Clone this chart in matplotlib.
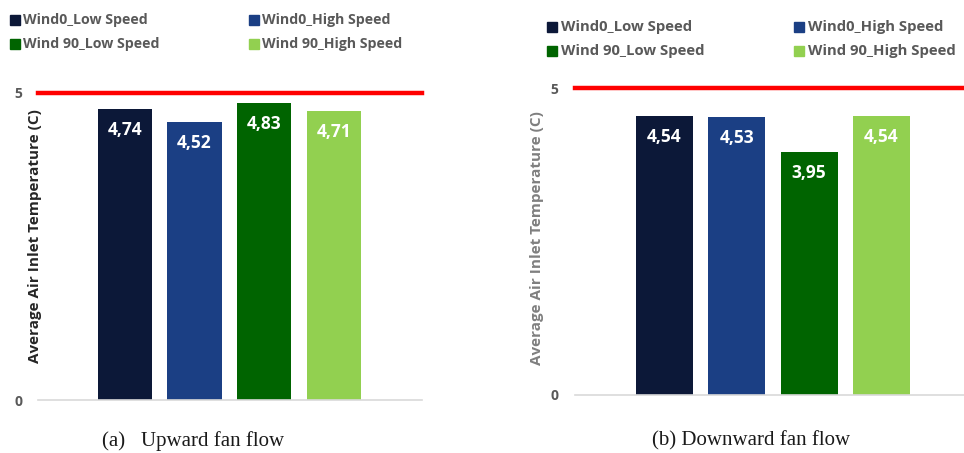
import matplotlib
matplotlib.use("Agg")
import matplotlib.pyplot as plt
from matplotlib.patches import Rectangle

series = ["Wind0_Low Speed", "Wind0_High Speed", "Wind 90_Low Speed", "Wind 90_High Speed"]
colors = ["#0c1838", "#1b3f84", "#006400", "#92d050"]
upward = [4.74, 4.52, 4.83, 4.71]
downward = [4.54, 4.53, 3.95, 4.54]
limit = 5
yticks = [0, 5]
captions = ["(a)   Upward fan flow", "(b) Downward fan flow"]
ylabel = "Average Air Inlet Temperature (C)"

W, H = 964, 453
fig = plt.figure(figsize=(W / 100, H / 100), dpi=100)

def px_axes(x0, y_top, x1, y_bot):
    return fig.add_axes([x0 / W, 1 - y_bot / H, (x1 - x0) / W, (y_bot - y_top) / H])

font = "Open Sans"
grey = "#595959"

def panel(ax, vals, xlim, width, tick_pad):
    xs = range(len(vals))
    ax.bar(xs, vals, width=width, color=colors)
    ax.set_xlim(*xlim)
    ax.set_ylim(0, limit)
    ax.axhline(limit, color="#ff0000", lw=3.2, clip_on=False, zorder=5)
    for x, v in zip(xs, vals):
        ax.text(x, v - 0.34, f"{v:.2f}".replace(".", ","), ha="center", va="center",
                color="white", fontsize=12.5, fontweight="bold", family=font)
    for s in ["top", "right", "left"]:
        ax.spines[s].set_visible(False)
    ax.spines["bottom"].set_color("#d9d9d9")
    ax.spines["bottom"].set_linewidth(1.2)
    ax.set_xticks([])
    ax.set_yticks(yticks)
    ax.tick_params(axis="y", length=0, pad=tick_pad, labelsize=10, labelcolor=grey)
    for t in ax.get_yticklabels():
        t.set_fontweight("bold")
        t.set_family(font)

axL = px_axes(38, 93, 422, 400)
panel(axL, upward, (-1.25, 4.27), 0.78, 11)
axR = px_axes(575, 88, 964, 395)
panel(axR, downward, (-1.235, 4.14), 0.79, 12)

fig.text(35 / W, 1 - 236 / H, ylabel, rotation=90, ha="center", va="center",
         fontsize=11, fontweight="bold", color="#262626", family=font)
fig.text(537 / W, 1 - 238 / H, ylabel, rotation=90, ha="center", va="center",
         fontsize=11, fontweight="bold", color="#7f7f7f", family=font)

def legend(x_cols, y_rows, fs, gap):
    k = 0
    for y in y_rows:
        for x in x_cols:
            fig.patches.append(Rectangle((x / W, 1 - (y + 5) / H), 10 / W, 10 / H,
                                         transform=fig.transFigure, color=colors[k]))
            fig.text((x + gap) / W, 1 - y / H, series[k], ha="left", va="center",
                     fontsize=fs, fontweight="bold", color=grey, family=font)
            k += 1

legend([10, 249], [20, 44], 10.2, 13)
legend([547, 794], [27, 51], 10.7, 14)

fig.text(193 / W, 1 - 441 / H, captions[0], ha="center", va="center",
         fontsize=15, family="Liberation Serif", color="#1a1a1a")
fig.text(751 / W, 1 - 441 / H, captions[1], ha="center", va="center",
         fontsize=15, family="Liberation Serif", color="#1a1a1a")

fig.savefig("out.png", dpi=100)
